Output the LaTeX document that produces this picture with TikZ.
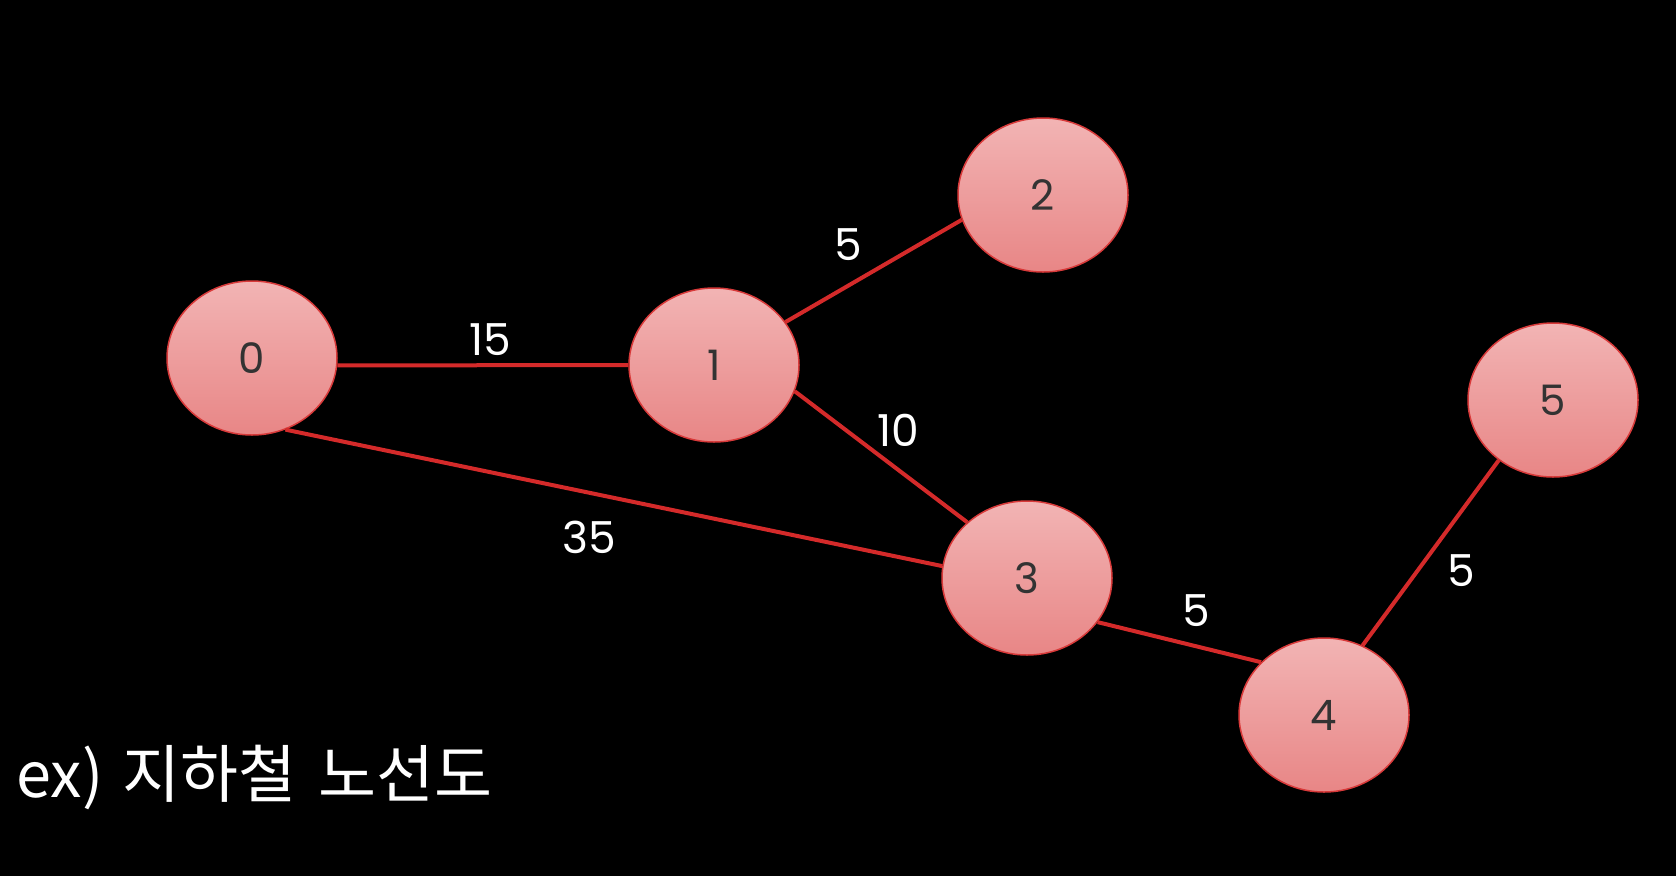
\documentclass[tikz,border=0pt]{standalone}
\usepackage{fontspec}
\setmainfont{Poppins}
\newfontfamily\cjk{Noto Sans CJK KR}
\usetikzlibrary{shapes.geometric}
\definecolor{edgered}{HTML}{D42A2A}
\definecolor{nodetop}{HTML}{F2B4B4}
\definecolor{nodebot}{HTML}{E88686}
\definecolor{noderim}{HTML}{D83A3A}
\definecolor{digit}{HTML}{333333}
\tikzset{
  vertex/.style={ellipse, minimum width=170pt, minimum height=154pt, inner sep=0pt,
    draw=noderim, line width=1.5pt, top color=nodetop, bottom color=nodebot,
    text=digit, font=\fontsize{42}{42}\selectfont},
  edge/.style={draw=edgered, line width=4pt},
  wlabel/.style={text=white, font=\fontsize{44}{44}\selectfont, inner sep=0pt}
}
\begin{document}
\begin{tikzpicture}[x=1pt,y=-1pt]
\fill[black] (0,0) rectangle (1676,876);
\useasboundingbox (0,0) rectangle (1676,876);
\node[vertex] (n0) at (252,358) {0};
\node[vertex] (n1) at (714,365) {1};
\node[vertex] (n2) at (1043,195) {2};
\node[vertex] (n3) at (1027,578) {3};
\node[vertex] (n4) at (1324,715) {4};
\node[vertex] (n5) at (1553,400) {5};
\draw[edge] (n0.-5) -- (n1.180);
\draw[edge] (n1.31) -- (n2.-163);
\draw[edge] (n1.-18) -- (n3.137);
\draw[edge] (n0.-65) -- (n3.172);
\draw[edge] (n3.-32) -- (n4.140);
\draw[edge] (n4.61) -- (n5.-132);
\node[wlabel] (l01) at (490,340) {15};
\node[wlabel] (l12) at (848,245) {5};
\node[wlabel] (l13) at (898,430) {10};
\node[wlabel] (l03) at (589,537) {35};
\node[wlabel] (l34) at (1196,611) {5};
\node[wlabel] (l45) at (1461,571) {5};
\node[anchor=west, text=white, inner sep=0pt, font=\cjk\fontsize{63}{63}\selectfont] (title) at (16,777) {ex)\hspace{5pt} 지하철\hspace{8pt} 노선도};
\end{tikzpicture}
\end{document}
